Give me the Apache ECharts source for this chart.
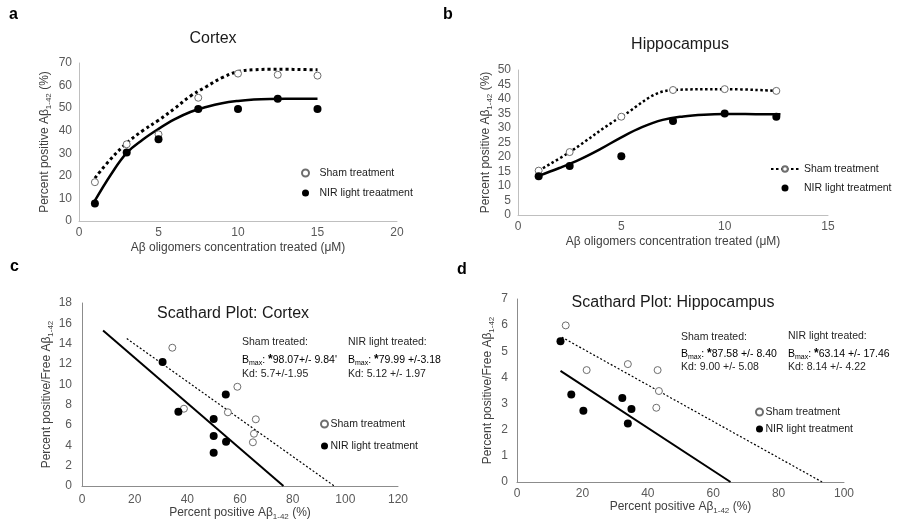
<!DOCTYPE html>
<html><head><meta charset="utf-8">
<script src="https://cdn.jsdelivr.net/npm/echarts@6/dist/echarts.min.js"></script>
<style>html,body{margin:0;padding:0;background:#fff}#c{width:898px;height:524px}</style>
</head><body><div id="c"></div>
<script>
// ---------- Panel a: Cortex ----------
const concA = [1, 3, 5, 7.5, 10, 12.5, 15];
const shamA = [17.2, 34.0, 38.4, 54.6, 65.3, 64.8, 64.4];
const nirA = [7.8, 30.4, 36.2, 49.6, 49.6, 54.2, 49.6];
const fitXA = [1, 2, 3, 4, 5, 6, 7, 8, 9, 10, 11, 12, 13, 14, 15];
const shamFitA = [19, 27.5, 34.5, 40, 44.6, 49.8, 55.3, 59.5, 63.5, 66.2, 67, 67.2, 67.2, 67.1, 67];
const nirFitA = [9, 20.5, 30.2, 36, 40.8, 45, 48.3, 50.5, 52.2, 53.2, 53.8, 54.1, 54.2, 54.2, 54.2];

// ---------- Panel b: Hippocampus ----------
const concB = [1, 2.5, 5, 7.5, 10, 12.5];
const shamB = [15.3, 21.7, 33.9, 43.1, 43.4, 42.8];
const nirB = [13.4, 16.9, 20.3, 32.4, 35.0, 33.9];
const fitXB = [1, 2, 3, 4, 5, 6, 7, 8, 9, 10, 11, 12, 12.7];
const nirFitB = [13.5, 16.2, 19.2, 22.8, 26.8, 30.3, 32.8, 34.0, 34.6, 34.8, 34.8, 34.7, 34.7];

// ---------- Panel c: Scathard Cortex ----------
const shamCX = [34.3, 38.7, 55.4, 59.0, 66.0, 65.3, 64.9];
const shamCY = [13.6, 7.6, 7.25, 9.76, 6.56, 5.14, 4.3];
const nirCX = [30.6, 36.6, 50.0, 50.0, 50.0, 54.6, 54.7];
const nirCY = [12.2, 7.3, 6.6, 4.92, 3.28, 9.0, 4.36];
const shamLineCX = [17.0, 95.8];
const shamLineCY = [14.5, 0];
const nirLineCX = [8.0, 76.5];
const nirLineCY = [15.3, 0];

// ---------- Panel d: Scathard Hippocampus ----------
const shamDX = [14.9, 21.3, 33.9, 43.0, 43.4, 42.6];
const shamDY = [5.99, 4.28, 4.51, 4.28, 3.48, 2.84];
const nirDX = [13.3, 16.6, 20.3, 32.2, 35.0, 33.9];
const nirDY = [5.38, 3.35, 2.73, 3.21, 2.79, 2.24];
const shamLineDX = [13.7, 93.3];
const shamLineDY = [5.54, 0];
const nirLineDX = [13.3, 65.3];
const nirLineDY = [4.25, 0];

// ---------- Texts ----------
const panelLetters = ['a', 'b', 'c', 'd'];
const panelTitles = ['Cortex', 'Hippocampus', 'Scathard Plot: Cortex', 'Scathard Plot: Hippocampus'];
const legendNames = {
  aSham: 'Sham treatment', aNir: 'NIR light treaatment',
  bSham: 'Sham treatment', bNir: 'NIR light treatment',
  cSham: 'Sham treatment', cNir: 'NIR light treatment',
  dSham: 'Sham treatment', dNir: 'NIR light treatment'
};
const statsC = {
  sham: ['Sham treated:', '98.07+/- 9.84\'', '5.7+/-1.95'],
  nir: ['NIR light treated:', '79.99 +/-3.18', '5.12 +/- 1.97']
};
const statsD = {
  sham: ['Sham treated:', '87.58 +/- 8.40', '9.00 +/- 5.08'],
  nir: ['NIR light treated:', '63.14 +/- 17.46', '8.14 +/- 4.22']
};

const FONT = "'Liberation Sans', Arial, Helvetica, sans-serif";
const pairs = (xs, ys) => xs.map((x, i) => [x, ys[i]]);

const subRich = { sub: { fontSize: 8, fontFamily: FONT, color: '#404040', verticalAlign: 'bottom', padding: [0, 0, -2, 0] } };

function xAx(gi, min, max, interval, gap, margin, lc) {
  return {
    type: 'value', gridIndex: gi, min, max, interval,
    name: gi < 2 ? 'Aβ oligomers concentration treated (μM)' : 'Percent positive Aβ{sub|1-42} (%)',
    nameLocation: 'middle', nameGap: gap,
    nameTextStyle: { fontSize: 12, color: '#404040', fontFamily: FONT, rich: subRich },
    axisLine: { show: true, onZero: false, lineStyle: { color: lc, width: 1 } },
    axisTick: { show: false }, splitLine: { show: false },
    axisLabel: { fontSize: 12, color: '#595959', margin, fontFamily: FONT }
  };
}
function yAx(gi, min, max, interval, gap, margin, lc) {
  return {
    type: 'value', gridIndex: gi, min, max, interval,
    name: gi < 2 ? 'Percent positive Aβ{sub|1-42} (%)' : 'Percent positive/Free Aβ{sub|1-42}',
    nameLocation: 'middle', nameGap: gap,
    nameTextStyle: { fontSize: 12, color: '#404040', fontFamily: FONT, rich: subRich },
    axisLine: { show: true, onZero: false, lineStyle: { color: lc, width: 1 } },
    axisTick: { show: false }, splitLine: { show: false },
    axisLabel: { fontSize: 12, color: '#595959', margin, fontFamily: FONT }
  };
}

const openStyle = { color: '#ffffff', borderColor: '#6e6e6e', borderWidth: 1, opacity: 1 };
const fillStyle = { color: '#000000', opacity: 1 };

function scat(name, gi, data, open) {
  return { name, type: 'scatter', xAxisIndex: gi, yAxisIndex: gi, data, symbol: 'circle',
    symbolSize: open ? 7 : 8, itemStyle: open ? openStyle : fillStyle, z: 5 };
}
function fitLine(name, gi, data, dash, width, smooth) {
  return { name, type: 'line', xAxisIndex: gi, yAxisIndex: gi, data, showSymbol: false, smooth: smooth ? 0.4 : false,
    lineStyle: { color: '#000', width, type: dash || 'solid', cap: 'butt' }, z: 3, silent: true };
}

function legend(names, left, top, gap, itemWidth, extra) {
  return Object.assign({
    data: names, orient: 'vertical', left, top, itemGap: gap, padding: 0,
    itemWidth, itemHeight: 7, selectedMode: false,
    formatter: n => legendNames[n],
    textStyle: { fontSize: 10.5, color: '#1a1a1a', fontFamily: FONT, lineHeight: 14 }
  }, extra || {});
}

function statText(x, ys, arr) {
  const rich = {
    t: { fontSize: 10.5, fontFamily: FONT, color: '#262626', lineHeight: 13, verticalAlign: 'middle' },
    s: { fontSize: 7, fontFamily: FONT, color: '#262626', lineHeight: 13, verticalAlign: 'bottom' },
    p: { fontSize: 12, fontWeight: 'bold', fontFamily: FONT, color: '#000', lineHeight: 13, verticalAlign: 'top' }
  };
  return [
    { type: 'text', x, y: ys[0], style: { text: arr[0], fontSize: 10.5, fontFamily: FONT, fill: '#262626', verticalAlign: 'middle' } },
    { type: 'text', x, y: ys[1], style: { text: '{t|B}{s|max}{t|: }{p|*}{t|' + arr[1] + '}', rich, verticalAlign: 'middle' } },
    { type: 'text', x, y: ys[2], style: { text: 'Kd: ' + arr[2], fontSize: 10.5, fontFamily: FONT, fill: '#262626', verticalAlign: 'middle' } }
  ];
}

const titleStyle = { fontSize: 16, fontWeight: 'normal', color: '#1a1a1a', fontFamily: FONT };
const letterPos = [[9, 15], [443, 15], [10, 267], [457, 270]];

const option = {
  animation: false,
  backgroundColor: '#ffffff',
  title: [
    { text: panelTitles[0], left: 213, top: 31, textAlign: 'center', padding: 0, textStyle: titleStyle },
    { text: panelTitles[1], left: 680, top: 37, textAlign: 'center', padding: 0, textStyle: titleStyle },
    { text: panelTitles[2], left: 233, top: 306, textAlign: 'center', padding: 0, textStyle: titleStyle },
    { text: panelTitles[3], left: 673, top: 295, textAlign: 'center', padding: 0, textStyle: titleStyle }
  ],
  grid: [
    { left: 79, top: 63, width: 318, height: 158 },
    { left: 518, top: 70, width: 310, height: 145 },
    { left: 82, top: 303, width: 316, height: 183 },
    { left: 517, top: 299, width: 327, height: 183 }
  ],
  xAxis: [
    xAx(0, 0, 20, 5, 21, 6, '#bfbfbf'),
    xAx(1, 0, 15, 5, 21, 6, '#bfbfbf'),
    xAx(2, 0, 120, 20, 20, 8, '#8c8c8c'),
    xAx(3, 0, 100, 20, 17, 6, '#8c8c8c')
  ],
  yAxis: [
    yAx(0, 0, 70, 10, 28, 7, '#bfbfbf'),
    yAx(1, 0, 50, 5, 23, 7, '#bfbfbf'),
    yAx(2, 0, 18, 2, 23, 10, '#8c8c8c'),
    yAx(3, 0, 7, 1, 23, 9, '#8c8c8c')
  ],
  legend: [
    legend(['aSham', 'aNir'], 301, 166, 6, 18),
    legend(['bSham', 'bNir'], 770, 162, 5, 28),
    legend(['cSham', 'cNir'], 320, 417, 8, 8, { textStyle: { fontSize: 10.5, color: '#1a1a1a', fontFamily: FONT, lineHeight: 14, padding: [0, 0, 0, -3] } }),
    legend(['dSham', 'dNir'], 755, 405, 3, 8, { textStyle: { fontSize: 10.5, color: '#1a1a1a', fontFamily: FONT, lineHeight: 14, padding: [0, 0, 0, -3] } })
  ],
  graphic: [].concat(
    panelLetters.map((t, i) => ({ type: 'text', x: letterPos[i][0], y: letterPos[i][1],
      style: { text: t, fontSize: 16, fontWeight: 'bold', fontFamily: FONT, fill: '#000', verticalAlign: 'middle' } })),
    statText(242, [342, 360, 374], statsC.sham),
    statText(348, [342, 360, 374], statsC.nir),
    statText(681, [337, 354, 367], statsD.sham),
    statText(788, [336, 354, 367], statsD.nir)
  ),
  series: [
    // a
    fitLine('aShamFit', 0, pairs(fitXA, shamFitA), [3, 3], 3, true),
    fitLine('aNirFit', 0, pairs(fitXA, nirFitA), 'solid', 2.5, true),
    scat('aSham', 0, pairs(concA, shamA), true),
    scat('aNir', 0, pairs(concA, nirA), false),
    // b
    { name: 'bSham', type: 'line', xAxisIndex: 1, yAxisIndex: 1, data: pairs(concB, shamB), smooth: 0.4,
      symbol: 'circle', symbolSize: 7, showSymbol: true, itemStyle: openStyle,
      lineStyle: { color: '#000', width: 2.5, type: [2.5, 2.5], cap: 'butt' }, z: 4 },
    fitLine('bNirFit', 1, pairs(fitXB, nirFitB), 'solid', 2.5, true),
    scat('bNir', 1, pairs(concB, nirB), false),
    // c
    fitLine('cShamLine', 2, pairs(shamLineCX, shamLineCY), [2, 2], 1.2, false),
    fitLine('cNirLine', 2, pairs(nirLineCX, nirLineCY), 'solid', 2, false),
    scat('cSham', 2, pairs(shamCX, shamCY), true),
    scat('cNir', 2, pairs(nirCX, nirCY), false),
    // d
    fitLine('dShamLine', 3, pairs(shamLineDX, shamLineDY), [2, 2], 1.2, false),
    fitLine('dNirLine', 3, pairs(nirLineDX, nirLineDY), 'solid', 2, false),
    scat('dSham', 3, pairs(shamDX, shamDY), true),
    scat('dNir', 3, pairs(nirDX, nirDY), false)
  ]
};

const chart = echarts.init(document.getElementById('c'), null, { renderer: 'canvas' });
chart.setOption(option);
</script></body></html>
